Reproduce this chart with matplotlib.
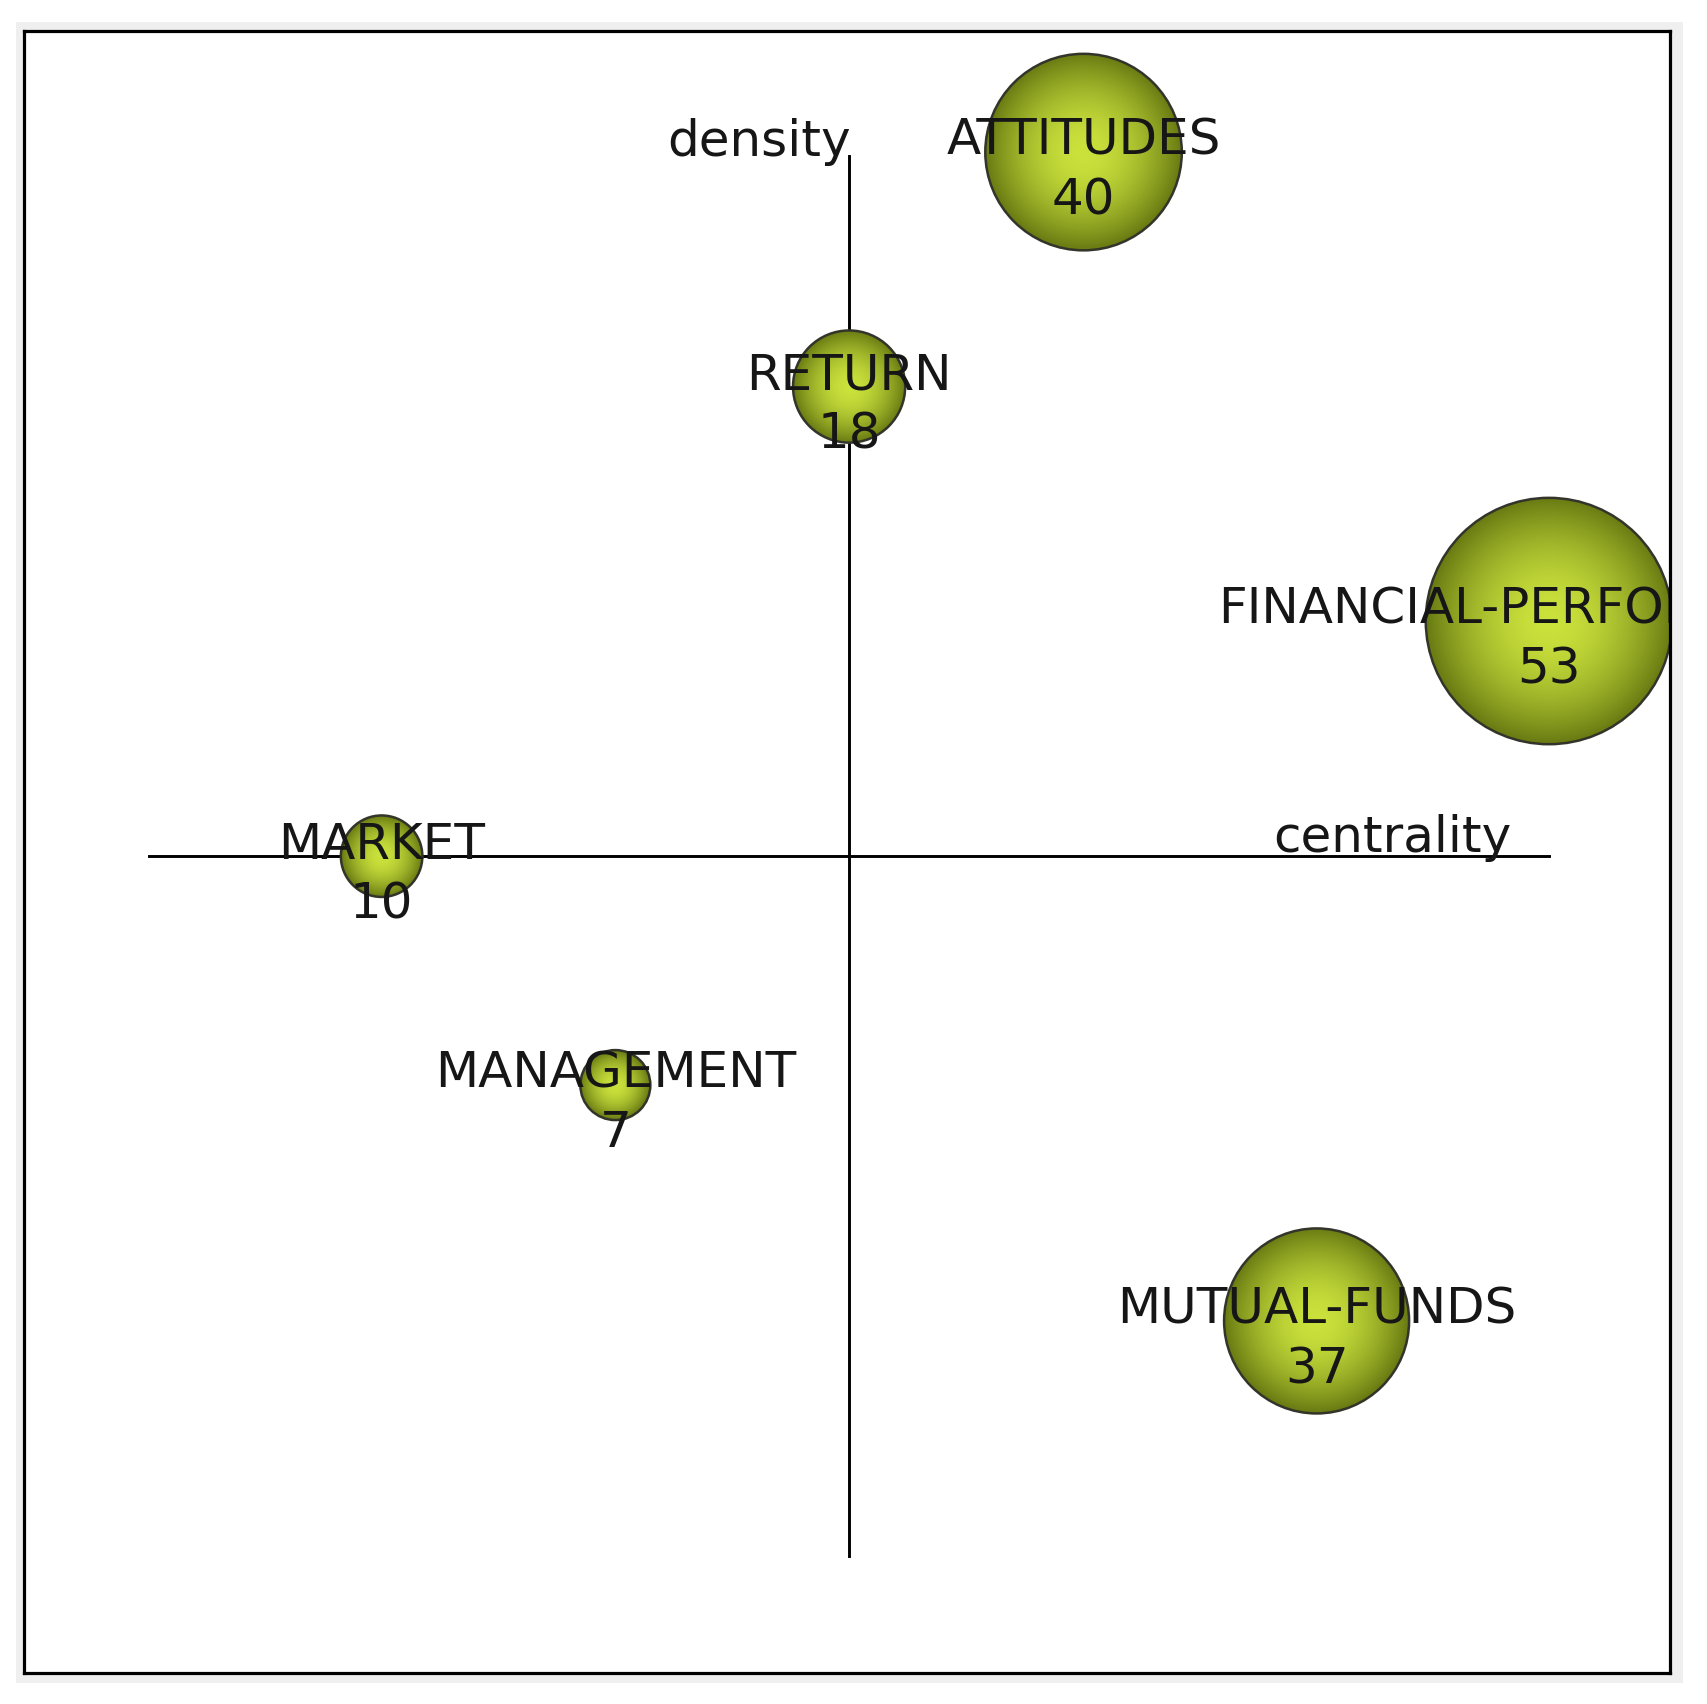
import numpy as np
import matplotlib
matplotlib.use("Agg")
import matplotlib.pyplot as plt
from matplotlib.patches import Circle, Rectangle
from matplotlib.colors import to_rgb

# themes of the strategic diagram
themes = ["ATTITUDES", "RETURN", "FINANCIAL-PERFORMANCE", "MARKET", "MANAGEMENT", "MUTUAL-FUNDS"]
centrality = [0.335, 0.0, 1.0, -0.668, -0.334, 0.668]
density = [1.006, 0.671, 0.336, 0.0, -0.327, -0.664]
documents = [40, 18, 53, 10, 7, 37]

W, H = 1707, 1704
fig = plt.figure(figsize=(W / 100, H / 100), dpi=100, facecolor="white")

# light grey sheet behind the frame
fig.patches.append(Rectangle((16 / W, (H - 1683) / H), (1683 - 16) / W, (1683 - 22) / H,
                             transform=fig.transFigure, facecolor="#efefef",
                             edgecolor="none", zorder=-5))

ax = fig.add_axes([24 / W, (H - 1673) / H, (1670 - 24) / W, (1673 - 31) / H])
ax.set_zorder(1)
ax.set_facecolor("white")
ax.set_xticks([])
ax.set_yticks([])
for s in ax.spines.values():
    s.set_linewidth(2.3)
    s.set_color("black")
    s.set_zorder(10)

# quadrant axes
ax.plot([-1, 1], [0, 0], color="black", lw=2.1, zorder=1)
ax.plot([0, 0], [-1, 1], color="black", lw=2.1, zorder=1)

txt_col = "#161616"
fs = 36
ax.text(0.003, 1.0, "density", ha="right", va="baseline", fontsize=fs, color=txt_col)
ax.text(0.946, 0.006, "centrality", ha="right", va="baseline", fontsize=fs, color=txt_col)

# radial gradient for bubbles
c_in = np.array(to_rgb("#cbe23c"))
c_out = np.array(to_rgb("#687a12"))
n = 300
yy, xx = np.mgrid[-1:1:n * 1j, -1:1:n * 1j]
d = np.clip(np.sqrt(xx ** 2 + yy ** 2), 0, 1) ** 1.8
grad = c_in[None, None, :] * (1 - d[..., None]) + c_out[None, None, :] * d[..., None]

r_min, r_max = 0.050, 0.176
nmin, nmax = min(documents), max(documents)

for name, x, y, cnt in zip(themes, centrality, density, documents):
    r = r_min + (cnt - nmin) / (nmax - nmin) * (r_max - r_min)
    clip = Circle((x, y), r, transform=ax.transData, facecolor="none", edgecolor="none")
    ax.add_patch(clip)
    im = ax.imshow(grad, extent=(x - r, x + r, y - r, y + r), origin="lower",
                   interpolation="bilinear", zorder=2)
    im.set_clip_path(clip)
    ax.add_patch(Circle((x, y), r, facecolor="none", edgecolor="#34342a", lw=1.8, zorder=3))
    ax.text(x, y - 0.004, name, ha="center", va="baseline", fontsize=fs,
            color=txt_col, zorder=4, clip_on=True)
    ax.text(x, y - 0.089, str(cnt), ha="center", va="baseline", fontsize=fs,
            color=txt_col, zorder=4, clip_on=True)

ax.set_xlim(-1.179, 1.173)
ax.set_ylim(-1.167, 1.179)
ax.set_aspect("auto")

fig.savefig("out.png", dpi=100, facecolor="white")
